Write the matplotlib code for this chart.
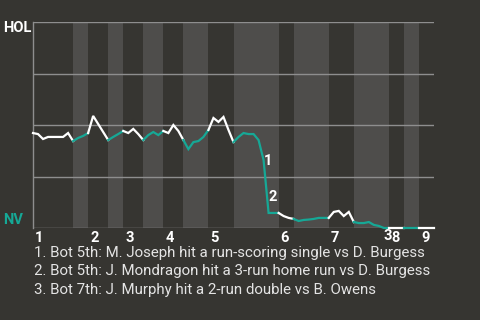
import matplotlib
matplotlib.use("Agg")
import matplotlib.pyplot as plt
from matplotlib.transforms import blended_transform_factory, offset_copy

plt.rcParams['font.family'] = ['Roboto', 'DejaVu Sans']

# half-inning boundaries (event index), top/bottom alternate
half_bounds = [0, 8, 11, 15, 18, 22, 26, 30, 35, 40, 49, 52, 59, 64, 71, 74, 77, 80]
innings = ['1', '2', '3', '4', '5', '6', '7', '8', '9']

# HOL win probability (%) after each event
hol_wp = [46.1, 45.6, 43.2, 44.2, 44.2, 44.2, 44.2, 46.1, 42.2, 43.7,
          44.7, 46.1, 54.4, 50.5, 46.6, 42.7, 44.2, 45.6, 47.1, 46.1,
          48.1, 45.6, 42.7, 45.1, 46.6, 45.1, 47.1, 46.1, 50.0, 47.1,
          42.7, 38.3, 41.7, 42.2, 44.2, 47.6, 53.4, 51.5, 53.9, 47.6,
          41.7, 44.2, 46.1, 45.6, 45.6, 42.7, 33.0, 7.3, 7.3, 7.3,
          5.8, 4.9, 4.4, 3.4, 3.9, 4.1, 4.4, 4.9, 4.9, 4.9,
          7.8, 8.3, 5.8, 7.8, 2.9, 2.4, 2.4, 2.9, 1.5, 1.0,
          0, 0, 0, 0, 0, 0, 0, 0, 0, 0, 0]

events = ['1', '2', '3']
event_x = [46.8, 47.8, 70.8]
event_y = [32.5, 15, -4]
notes = ["1. Bot 5th: M. Joseph hit a run-scoring single vs D. Burgess",
         "2. Bot 5th: J. Mondragon hit a 3-run home run vs D. Burgess",
         "3. Bot 7th: J. Murphy hit a 2-run double vs B. Owens"]

bg = '#363531'
band = '#4e4d4b'
teal = '#16a896'
grid = '#8e8e8e'

fig = plt.figure(figsize=(4.8, 3.2), dpi=100, facecolor=bg)
ax = fig.add_axes([33/480, 92/320, 401/480, 206/320])
ax.set_facecolor(bg)
ax.set_xlim(0, 80)
ax.set_ylim(0, 100)

# shade bottom halves
for k in range(1, len(half_bounds) - 1, 2):
    ax.axvspan(half_bounds[k], half_bounds[k+1], color=band, lw=0, zorder=0)

for g in [0, 25, 50, 75, 100]:
    ax.axhline(g, color=grid, lw=1, zorder=1)

# line, white while HOL bats, teal while NV bats
for k in range(len(half_bounds) - 1):
    a, b = half_bounds[k], half_bounds[k+1]
    xs = list(range(a, b + 1))
    ax.plot(xs, hol_wp[a:b+1], color='white' if k % 2 == 0 else teal,
            lw=1.6, zorder=3, solid_joinstyle='miter', clip_on=False)

for lab, x, y in zip(events, event_x, event_y):
    ax.text(x, y, lab, color='white', fontsize=10.5, fontweight='bold',
            ha='center', va='center', zorder=4)

for s in ['top', 'right', 'bottom']:
    ax.spines[s].set_visible(False)
ax.spines['left'].set_color(grid)
ax.spines['left'].set_linewidth(1)
ax.set_xticks([])
ax.set_yticks([])

tr = offset_copy(blended_transform_factory(ax.transData, ax.transAxes), fig=fig, x=2, y=-3, units='dots')
for i, lab in enumerate(innings):
    ax.text(half_bounds[2*i], 0, lab, transform=tr, color='white', fontsize=10.5,
            fontweight='bold', ha='left', va='top')

fig.text(3/480, 1 - 28/320, 'HOL', color='white', fontsize=10.5, fontweight='bold', va='center')
fig.text(3/480, 1 - 220/320, 'NV', color=teal, fontsize=10.5, fontweight='bold', va='center')

for j, n in enumerate(notes):
    fig.text(34/480, 1 - (253 + 18.5*j)/320, n, color='#e4e4e4', fontsize=10.8, va='center')

fig.savefig('out.png', dpi=100, facecolor=bg)
